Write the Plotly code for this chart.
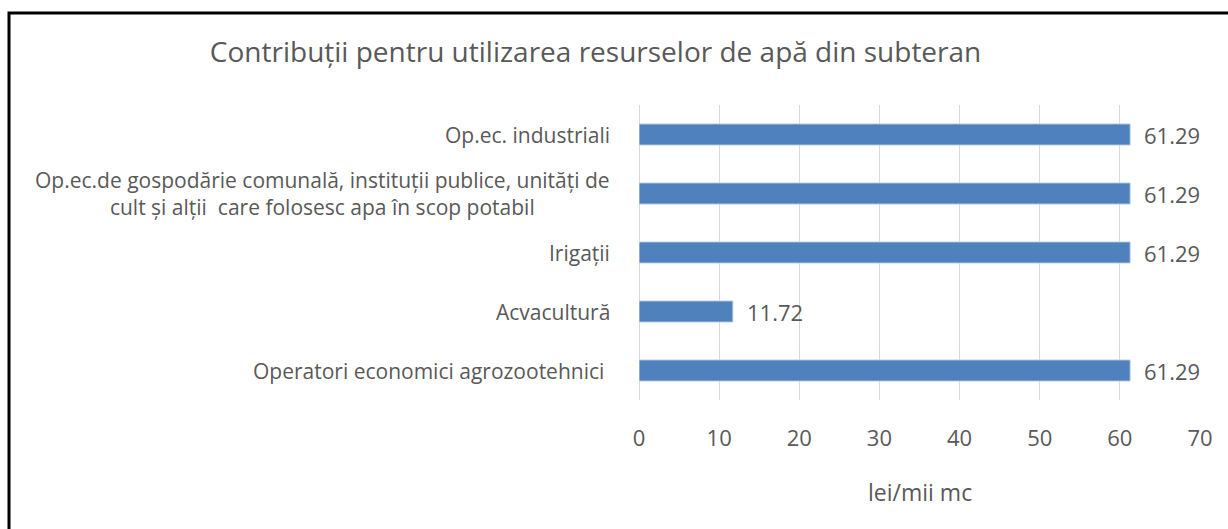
import plotly.graph_objects as go

# Categories listed top to bottom, with their contribution values (lei/mii mc)
categories = [
    "Op.ec. industriali",
    "Op.ec.de gospodărie comunală, instituții publice, unități de<br>cult și alții  care folosesc apa în scop potabil",
    "Irigații",
    "Acvacultură",
    "Operatori economici agrozootehnici ",
]
values = [61.29, 61.29, 61.29, 11.72, 61.29]
x_ticks = [0, 10, 20, 30, 40, 50, 60, 70]

title_text = "Contribuții pentru utilizarea resurselor de apă din subteran"
x_title = "lei/mii mc"

FONT = "Open Sans"
TEXT_COLOR = "#595959"
BAR_COLOR = "#4f81bd"

fig = go.Figure()
fig.add_trace(go.Bar(
    x=values,
    y=categories,
    orientation="h",
    marker=dict(color=BAR_COLOR, line=dict(color="#c9d7ea", width=1)),
    hoverinfo="skip",
    showlegend=False,
))

annotations = []
# category labels: right-aligned block, lines centred within it
for cat in categories:
    annotations.append(dict(
        x=0, y=cat, xref="paper", yref="y",
        text=cat, showarrow=False,
        xanchor="right", yanchor="middle", align="center",
        xshift=-27,
        font=dict(family=FONT, size=21, color=TEXT_COLOR),
    ))
# value labels to the right of each bar
for cat, v in zip(categories, values):
    annotations.append(dict(
        x=v, y=cat, xref="x", yref="y",
        text=f"{v:.2f}", showarrow=False,
        xanchor="left", yanchor="middle",
        xshift=12,
        font=dict(family=FONT, size=22, color=TEXT_COLOR),
    ))
# axis title
annotations.append(dict(
    x=0.5, y=-0.312, xref="paper", yref="paper",
    text=x_title, showarrow=False,
    xanchor="center", yanchor="middle",
    font=dict(family=FONT, size=23, color=TEXT_COLOR),
))

fig.update_layout(
    width=1228, height=529,
    margin=dict(l=639, r=28, t=105, b=129),
    paper_bgcolor="white",
    plot_bgcolor="white",
    bargap=0.64,
    title=dict(
        text=title_text,
        x=0.485, xanchor="center",
        y=1 - 52 / 529, yanchor="middle",
        font=dict(family=FONT, size=28, color=TEXT_COLOR),
    ),
    xaxis=dict(
        range=[0, 70],
        tickvals=x_ticks,
        showgrid=True, gridcolor="#d9d9d9", gridwidth=1,
        zeroline=True, zerolinecolor="#d9d9d9", zerolinewidth=1,
        showline=False, ticks="",
        ticklabelstandoff=23,
        tickfont=dict(family=FONT, size=22, color=TEXT_COLOR),
        fixedrange=True,
    ),
    yaxis=dict(
        categoryorder="array",
        categoryarray=categories,
        autorange="reversed",
        showticklabels=False,
        showgrid=False, zeroline=False, showline=False, ticks="",
        fixedrange=True,
    ),
    annotations=annotations,
    shapes=[dict(
        type="rect", xref="paper", yref="paper",
        x0=(9 - 639) / 561, x1=(1260 - 639) / 561,
        y0=(400 - 560) / 295, y1=(400 - 13) / 295,
        line=dict(color="black", width=3),
        fillcolor="rgba(0,0,0,0)",
        layer="above",
    )],
)

fig.write_html("out.html", config={"displayModeBar": False})
